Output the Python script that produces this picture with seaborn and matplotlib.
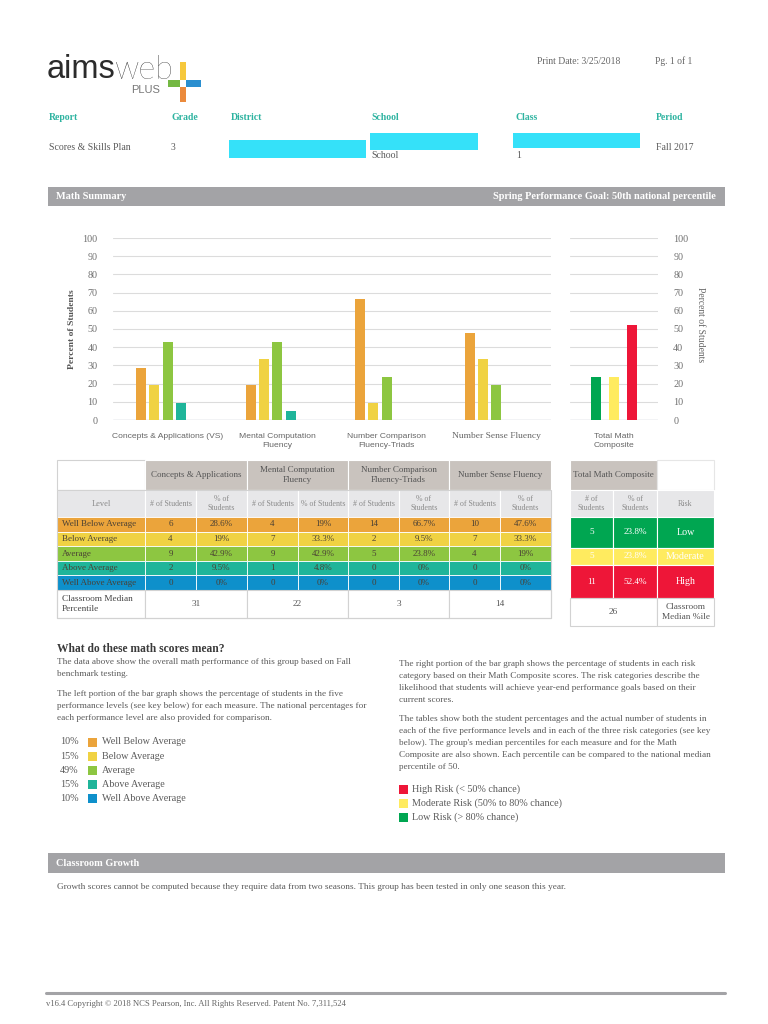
import numpy as np
import pandas as pd
import matplotlib
matplotlib.use("Agg")
import matplotlib.pyplot as plt
from matplotlib.patches import Rectangle
import seaborn as sns

# ==== Report data ====
measures = ["Concepts & Applications (VS)", "Mental Computation\nFluency",
            "Number Comparison\nFluency-Triads", "Number Sense Fluency"]
table_measures = ["Concepts & Applications", "Mental Computation\nFluency",
                  "Number Comparison\nFluency-Triads", "Number Sense Fluency"]
sub_headers = [["# of Students", "% of\nStudents"], ["# of Students", "% of Students"],
               ["# of Students", "% of\nStudents"], ["# of Students", "% of\nStudents"]]
levels = ["Well Below Average", "Below Average", "Average", "Above Average", "Well Above Average"]
level_colors = ["#EBA43B", "#F0D243", "#8DC641", "#1FB59A", "#0E90CB"]
national_pct = [10, 15, 49, 15, 10]

concepts_n = [6, 4, 9, 2, 0]
concepts_pct = [28.6, 19, 42.9, 9.5, 0]
mental_n = [4, 7, 9, 1, 0]
mental_pct = [19, 33.3, 42.9, 4.8, 0]
comparison_n = [14, 2, 5, 0, 0]
comparison_pct = [66.7, 9.5, 23.8, 0, 0]
sense_n = [10, 7, 4, 0, 0]
sense_pct = [47.6, 33.3, 19, 0, 0]
median_pctile = [31, 22, 3, 14]

risk_levels = ["Low", "Moderate", "High"]
risk_colors = ["#00A651", "#FFEB5F", "#EE1638"]
risk_n = [5, 5, 11]
risk_pct = [23.8, 23.8, 52.4]
composite_median = 26
risk_keys = ["High Risk (< 50% chance)", "Moderate Risk (50% to 80% chance)", "Low Risk (> 80% chance)"]

y_ticks = list(range(0, 101, 10))

header_labels = ["Report", "Grade", "District", "School", "Class", "Period"]
header_values = ["Scores & Skills Plan", "3", "", "School", "1", "Fall 2017"]

measure_n = [concepts_n, mental_n, comparison_n, sense_n]
measure_pct = [concepts_pct, mental_pct, comparison_pct, sense_pct]

bars = pd.DataFrame({
    "measure": np.repeat(measures, len(levels)),
    "level": levels * len(measures),
    "pct": sum(measure_pct, []),
})
risk_df = pd.DataFrame({
    "measure": ["Total Math\nComposite"] * len(risk_levels),
    "risk": risk_levels,
    "pct": risk_pct,
})

# ==== Page setup ====
sns.set_theme(style="white")
plt.rcParams["font.family"] = ["Liberation Serif", "DejaVu Serif"]

W, H = 768, 1024
fig = plt.figure(figsize=(W / 100, H / 100), dpi=100)
page = fig.add_axes([0, 0, 1, 1])
page.set_xlim(0, W)
page.set_ylim(H, 0)
page.axis("off")

def px_axes(x0, y0, x1, y1):
    a = fig.add_axes([x0 / W, 1 - y1 / H, (x1 - x0) / W, (y1 - y0) / H])
    a.patch.set_alpha(0)
    return a

def box(x0, y0, x1, y1, fc, ec="none", lw=0.8):
    page.add_patch(Rectangle((x0, y0), x1 - x0, y1 - y0, facecolor=fc, edgecolor=ec, linewidth=lw))

def put(x, y, s, size=6.3, color="#4B4B4B", ha="center", va="center", **kw):
    page.text(x, y, s, fontsize=size, color=color, ha=ha, va=va, **kw)

teal = "#2DB3A0"
gray_text = "#5A5A5A"
band = "#A3A3A6"
taupe = "#C9C3BE"
sub_gray = "#E7E7E9"
line_gray = "#D2D2D2"

# ---- logo ----
put(47, 70, "aims", size=23.5, color="#2B2B2B", ha="left", family=["Liberation Sans", "DejaVu Sans"])
put(115, 70, "web", size=23.5, color="#111111", ha="left", family=["Lato", "DejaVu Sans"], fontweight="light")
put(131, 90, "PLUS", size=8, color="#777777", ha="left", family=["Liberation Sans", "DejaVu Sans"])
box(180, 62, 186, 80, "#F6C83C")
box(168, 80, 180, 87, "#74B843")
box(186, 80, 201, 87, "#2A8FD0")
box(180, 87, 186, 102, "#EB8A3C")

put(537, 61, "Print Date: 3/25/2018", size=6.9, color="#666666", ha="left")
put(655, 61, "Pg. 1 of 1", size=6.9, color="#666666", ha="left")

# ---- report header ----
header_x = [49, 171, 231, 371, 516, 656]
for x, lab, val in zip(header_x, header_labels, header_values):
    put(x, 118, lab, size=7, color=teal, ha="left", fontweight="bold")
    vy = 156 if lab in ("School", "Class") else 147
    put(x, vy, val, size=7, color=gray_text, ha="left")
box(229, 140, 366, 158, "#35E1F9")
box(370, 133, 478, 150, "#35E1F9")
box(513, 133, 640, 148, "#35E1F9")

# ---- section band ----
box(48, 187, 725, 206, band)
put(56, 196.5, "Math Summary", size=7.4, color="white", ha="left", fontweight="bold")
put(716, 196.5, "Spring Performance Goal: 50th national percentile", size=7.4, color="white",
    ha="right", fontweight="bold")

# ==== Bar charts ====
ax = px_axes(113, 238, 551, 420)
sns.barplot(data=bars, x="measure", y="pct", hue="level", hue_order=levels, palette=level_colors,
            saturation=1, width=0.61, gap=0.25, linewidth=0, legend=False, ax=ax, zorder=3)
ax2 = px_axes(570, 238, 658, 420)
sns.barplot(data=risk_df, x="measure", y="pct", hue="risk", hue_order=risk_levels, palette=risk_colors,
            saturation=1, width=0.6, gap=0.43, linewidth=0, legend=False, ax=ax2, zorder=3)

for a in (ax, ax2):
    a.set_ylim(0, 100)
    a.set_yticks(y_ticks)
    a.set_axisbelow(True)
    a.yaxis.grid(True, color="#DCDCDC", linewidth=0.8)
    a.axhline(0, color="#C8CFD8", linewidth=1.0, zorder=1)
    for s in a.spines.values():
        s.set_visible(False)
    a.set_xlabel("")
    a.set_ylabel("")
    a.tick_params(axis="y", length=0, pad=11, labelsize=7.3, labelcolor="#707070")
    a.tick_params(axis="x", length=0, pad=9, labelsize=6.1, labelcolor="#666666")
    for lab in a.get_xticklabels():
        lab.set_fontfamily(["Liberation Sans", "DejaVu Sans"])
        lab.set_linespacing(1.45)
ax.set_xlim(-0.5, len(measures) - 0.5)
ax2.set_xlim(-0.5, 0.5)
ax.get_xticklabels()[3].set_fontfamily(["Liberation Serif", "DejaVu Serif"])
ax.get_xticklabels()[3].set_fontsize(6.8)
ax2.yaxis.tick_right()

put(72, 329, "Percent of Students", size=6.8, color="#555555", rotation=90, fontweight="bold")
put(700, 325, "Percent of Students", size=6.9, color="#666666", rotation=270)

# ==== Left table ====
lt_left = 57
lt_cols = [145, 196, 247, 298, 348, 399, 449, 500, 551]
hdr = [460, 490, 517]
lt_rows = np.linspace(517, 590, len(levels) + 1)
lt_bottom = 618

box(lt_left, hdr[0], lt_cols[0], hdr[1], "white", line_gray)
for i, m in enumerate(table_measures):
    x0, x1 = lt_cols[2 * i], lt_cols[2 * i + 2]
    box(x0, hdr[0], x1, hdr[1], taupe, "white")
    put((x0 + x1) / 2, (hdr[0] + hdr[1]) / 2, m, size=6.5, color="#555555", linespacing=1.2)
box(lt_left, hdr[1], lt_cols[0], hdr[2], sub_gray, "white")
put((lt_left + lt_cols[0]) / 2, (hdr[1] + hdr[2]) / 2, "Level", size=6, color="#8A8A8A")
for i in range(len(table_measures)):
    for j in range(2):
        x0, x1 = lt_cols[2 * i + j], lt_cols[2 * i + j + 1]
        box(x0, hdr[1], x1, hdr[2], sub_gray, "white")
        put((x0 + x1) / 2, (hdr[1] + hdr[2]) / 2, sub_headers[i][j], size=5.7, color="#8A8A8A",
            linespacing=1.2)

for r, (lev, col) in enumerate(zip(levels, level_colors)):
    y0, y1 = lt_rows[r], lt_rows[r + 1]
    yc = (y0 + y1) / 2
    box(lt_left, y0, lt_cols[0], y1, col, "white", 0.6)
    put(lt_left + 5, yc, lev, size=6.5, color="#4A4034", ha="left")
    for i in range(len(table_measures)):
        vals = [str(measure_n[i][r]), f"{measure_pct[i][r]:g}%"]
        for j in range(2):
            x0, x1 = lt_cols[2 * i + j], lt_cols[2 * i + j + 1]
            box(x0, y0, x1, y1, col, "white", 0.6)
            put((x0 + x1) / 2, yc, vals[j], size=6.5, color="#4A4034")

box(lt_left, lt_rows[-1], lt_cols[0], lt_bottom, "white", line_gray)
put(lt_left + 5, (lt_rows[-1] + lt_bottom) / 2, "Classroom Median\nPercentile", size=6.7,
    color="#444444", ha="left", linespacing=1.2)
for i, med in enumerate(median_pctile):
    x0, x1 = lt_cols[2 * i], lt_cols[2 * i + 2]
    box(x0, lt_rows[-1], x1, lt_bottom, "white", line_gray)
    put((x0 + x1) / 2, (lt_rows[-1] + lt_bottom) / 2, str(med), size=6.7, color="#555555")
box(lt_left, hdr[1], lt_cols[-1], lt_bottom, "none", line_gray)

# ==== Right table ====
rt_cols = [570, 613, 657, 714]
rt_rows = [517, 548, 565, 598]
rt_bottom = 626
box(rt_cols[0], hdr[0], rt_cols[2], hdr[1], taupe, "white")
put((rt_cols[0] + rt_cols[2]) / 2, (hdr[0] + hdr[1]) / 2, "Total Math Composite", size=6.5, color="#555555")
box(rt_cols[2], hdr[0], rt_cols[3], hdr[1], "white", "#E6E6E6")
for j, lab in enumerate(["# of\nStudents", "% of\nStudents", "Risk"]):
    box(rt_cols[j], hdr[1], rt_cols[j + 1], hdr[2], sub_gray, "white")
    put((rt_cols[j] + rt_cols[j + 1]) / 2, (hdr[1] + hdr[2]) / 2, lab, size=5.7, color="#8A8A8A",
        linespacing=1.2)
for r, (lev, col) in enumerate(zip(risk_levels, risk_colors)):
    y0 = rt_rows[r]
    y1 = rt_rows[r + 1] if r + 1 < len(rt_rows) else rt_rows[-1]
    vals = [str(risk_n[r]), f"{risk_pct[r]:g}%", lev]
    for j in range(3):
        box(rt_cols[j], y0, rt_cols[j + 1], y1, col, "white", 0.8)
        put((rt_cols[j] + rt_cols[j + 1]) / 2, (y0 + y1) / 2, vals[j],
            size=7.2 if j == 2 else 6.6, color="white")
box(rt_cols[0], rt_rows[-1], rt_cols[2], rt_bottom, "white", line_gray)
put((rt_cols[0] + rt_cols[2]) / 2, (rt_rows[-1] + rt_bottom) / 2, str(composite_median), size=6.7,
    color="#555555")
box(rt_cols[2], rt_rows[-1], rt_cols[3], rt_bottom, "white", line_gray)
put((rt_cols[2] + rt_cols[3]) / 2, (rt_rows[-1] + rt_bottom) / 2, "Classroom\nMedian %ile", size=6.7,
    color="#555555", linespacing=1.2)

# ==== Explanations ====
put(57, 649, "What do these math scores mean?", size=8.3, color="#3A3A3A", ha="left", fontweight="bold")
body = dict(size=6.7, color="#5A5A5A", ha="left", va="top", linespacing=1.68)
put(57, 658, "The data above show the overall math performance of this group based on Fall\n"
             "benchmark testing.", **body)
put(57, 690, "The left portion of the bar graph shows the percentage of students in the five\n"
             "performance levels (see key below) for each measure. The national percentages for\n"
             "each performance level are also provided for comparison.", **body)
put(399, 660, "The right portion of the bar graph shows the percentage of students in each risk\n"
              "category based on their Math Composite scores. The risk categories describe the\n"
              "likelihood that students will achieve year-end performance goals based on their\n"
              "current scores.", **body)
put(399, 715, "The tables show both the student percentages and the actual number of students in\n"
              "each of the five performance levels and in each of the three risk categories (see key\n"
              "below). The group's median percentiles for each measure and for the Math\n"
              "Composite are also shown. Each percentile can be compared to the national median\n"
              "percentile of 50.", **body)

for k, (p, lev, col) in enumerate(zip(national_pct, levels, level_colors)):
    y = 742 + k * 14.2
    put(60, y, f"{p}%", size=7.3, color="#5A5A5A", ha="left")
    box(88, y - 4.5, 97, y + 4.5, col)
    put(102, y, lev, size=7.3, color="#5A5A5A", ha="left")

for k, (lab, col) in enumerate(zip(risk_keys, risk_colors[::-1])):
    y = 789 + k * 14
    box(399, y - 4.5, 408, y + 4.5, col)
    put(412, y, lab, size=7.3, color="#5A5A5A", ha="left")

# ==== Classroom growth ====
box(48, 853, 725, 873, band)
put(56, 863, "Classroom Growth", size=7.4, color="white", ha="left", fontweight="bold")
put(57, 887, "Growth scores cannot be computed because they require data from two seasons. "
             "This group has been tested in only one season this year.", size=6.65, color="#5A5A5A", ha="left")

# ---- footer ----
page.plot([46, 725], [993, 993], color="#A3A3A6", linewidth=2.2)
put(46, 1004, "v16.4 Copyright \u00a9 2018 NCS Pearson, Inc. All Rights Reserved. Patent No. 7,311,524",
    size=6.2, color="#666666", ha="left")

fig.savefig("out.png", dpi=100)
